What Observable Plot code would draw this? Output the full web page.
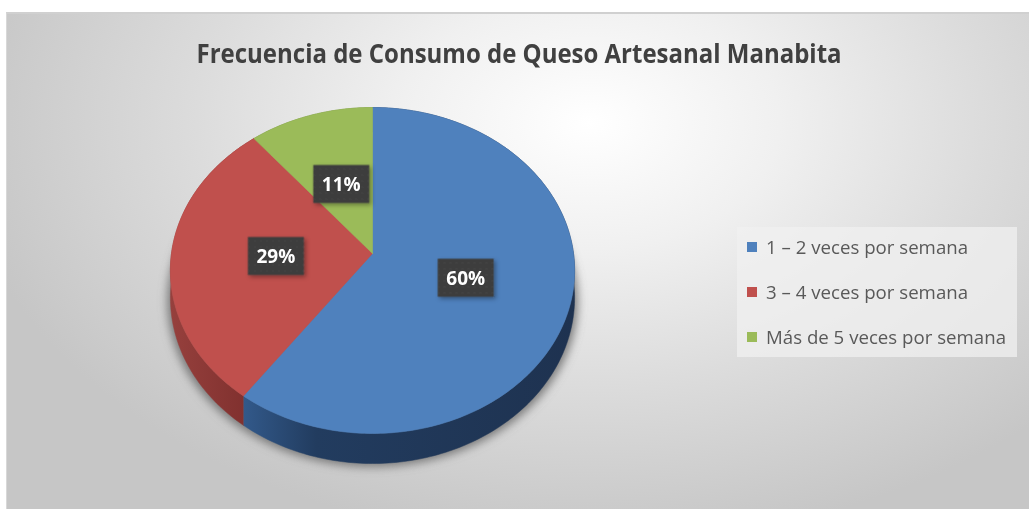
<!DOCTYPE html>
<html><head><meta charset="utf-8">
<script src="https://cdn.jsdelivr.net/npm/d3@7"></script>
<script src="https://cdn.jsdelivr.net/npm/@observablehq/plot@0.6"></script>
<style>
html,body{margin:0;padding:0;background:#fff;width:1029px;height:509px;overflow:hidden;}
#frame{position:absolute;left:6px;top:12px;width:1023px;height:497px;box-sizing:border-box;
 border-top:2px solid #d0d0d0;border-left:1px solid #d8d8d8;
 background:radial-gradient(ellipse 62% 85% at 57% 22%, #ffffff 0%, #f0f0f0 30%, #dcdcdc 62%, #c6c6c6 100%);}
#chart{position:absolute;left:0;top:0;}
#title{position:absolute;top:34px;left:0;width:1039px;text-align:center;font-family:"Open Sans",sans-serif;font-weight:700;color:#404040;white-space:nowrap;}
#title span{display:inline-block;transform-origin:50% 50%;}
#legend{position:absolute;left:737px;top:227px;width:280px;height:130px;background:rgba(240,240,240,0.75);font-family:"Open Sans",sans-serif;color:#595959;}
.li{position:absolute;left:10px;height:20px;display:flex;align-items:center;white-space:nowrap;}
.sw{width:10px;height:10px;margin-right:9px;flex:none;}
.li span{display:inline-block;transform-origin:0 50%;}
</style></head>
<body>
<div id="frame"></div>
<div id="chart"></div>
<div id="title"><span>Frecuencia de Consumo de Queso Artesanal Manabita</span></div>
<div id="legend"></div>
<script>
// ---- data ----
const categories = ["1 – 2 veces por semana", "3 – 4 veces por semana", "Más de 5 veces por semana"];
const shares = [60, 29, 11];
const labels = ["60%", "29%", "11%"];
const topColors = ["#4F81BD", "#C0504D", "#9BBB59"];
const sideColors = ["url(#blueSide)", "url(#redSide)", "#6F8A3E"];

// ---- geometry (perspective view of a tilted disk) ----
const c = 0.1043;          // perspective strength
const depth = 0.167;       // wall thickness in y-units
function proj(phi, r = 1) { // phi clockwise from top (radians)
  const X = r * Math.sin(phi), Z = r * Math.cos(phi);
  const d = 1 + c * Z;
  return {u: X / d, v: Z / d, d};
}
const total = d3.sum(shares);
let acc = 0;
const slices = shares.map((s, i) => {
  const a0 = acc / total * 2 * Math.PI;
  acc += s;
  const a1 = acc / total * 2 * Math.PI;
  return {i, a0, a1, mid: (a0 + a1) / 2};
});
function arcPts(a0, a1) {
  const n = Math.max(2, Math.ceil((a1 - a0) / (Math.PI / 180)));
  return d3.range(n + 1).map(k => a0 + (a1 - a0) * k / n);
}
const marks = [];
// shadow (bottom face silhouette)
const shadowPts = arcPts(0, 2 * Math.PI).map(a => { const p = proj(a); return {u: p.u * 1.015, v: p.v - depth / p.d - 0.02}; });
marks.push(Plot.line(shadowPts, {x: "u", y: "v", fill: "#6e6e6e", stroke: "none", fillOpacity: 0.9}));
// walls
slices.forEach(s => {
  const top = arcPts(s.a0, s.a1).map(a => proj(a));
  const pts = top.map(p => ({u: p.u, v: p.v})).concat(top.slice().reverse().map(p => ({u: p.u, v: p.v - depth / p.d})));
  marks.push(Plot.line(pts, {x: "u", y: "v", fill: sideColors[s.i], stroke: sideColors[s.i], strokeWidth: 0.5}));
});
// top faces
slices.forEach(s => {
  const pts = [{u: 0, v: 0}].concat(arcPts(s.a0, s.a1).map(a => { const p = proj(a); return {u: p.u, v: p.v}; }));
  pts.push({u: 0, v: 0});
  marks.push(Plot.line(pts, {x: "u", y: "v", fill: topColors[s.i], stroke: topColors[s.i], strokeWidth: 0.6}));
});
// data labels
const labelData = slices.map(s => { const p = proj(s.mid, 0.48); return {u: p.u, v: p.v, t: labels[s.i]}; });
const boxSymbol = {draw(ctx) { ctx.rect(-28, -19, 56, 38); }};
marks.push(Plot.dot(labelData, {x: "u", y: "v", symbol: boxSymbol, r: 5, fill: "url(#dots)", stroke: "none"}));
marks.push(Plot.text(labelData, {x: "u", y: "v", text: "t", fill: "white", fontSize: 19, fontWeight: "bold", fontFamily: "Open Sans, sans-serif", dy: 1}));

const svg = Plot.plot({
  width: 1029, height: 509, margin: 0,
  x: {domain: [-1, 1], range: [372 - 201, 372 + 201], axis: null},
  y: {domain: [-1, 1], range: [253 + 161.2, 253 - 161.2], axis: null},
  style: {background: "transparent", overflow: "visible"},
  marks
});
const defs = d3.select(svg).insert("defs", ":first-child");
const bg = defs.append("linearGradient").attr("id", "blueSide").attr("x1", 0).attr("x2", 1).attr("y1", 0).attr("y2", 0);
bg.append("stop").attr("offset", 0).attr("stop-color", "#32598a");
bg.append("stop").attr("offset", 0.22).attr("stop-color", "#223c5f");
bg.append("stop").attr("offset", 1).attr("stop-color", "#1e3250");
const rg = defs.append("linearGradient").attr("id", "redSide").attr("x1", 0).attr("x2", 1).attr("y1", 0).attr("y2", 0);
rg.append("stop").attr("offset", 0).attr("stop-color", "#96403d");
rg.append("stop").attr("offset", 1).attr("stop-color", "#7e2f2d");
const pat = defs.append("pattern").attr("id", "dots").attr("width", 6).attr("height", 6).attr("patternUnits", "userSpaceOnUse");
pat.append("rect").attr("width", 6).attr("height", 6).attr("fill", "#3d3d3d");
pat.append("circle").attr("cx", 3).attr("cy", 3).attr("r", 0.6).attr("fill", "#5a5a5a");
const blur = defs.append("filter").attr("id", "blur").attr("x", "-20%").attr("y", "-20%").attr("width", "140%").attr("height", "140%");
blur.append("feGaussianBlur").attr("stdDeviation", 5);
const ds = defs.append("filter").attr("id", "ds").attr("x", "-30%").attr("y", "-30%").attr("width", "160%").attr("height", "160%");
ds.append("feDropShadow").attr("dx", 2).attr("dy", 2).attr("stdDeviation", 2).attr("flood-color", "#000").attr("flood-opacity", 0.35);
const lines = svg.querySelectorAll('g[aria-label="line"]');
lines[0].setAttribute("filter", "url(#blur)");
const dotsG = svg.querySelector('g[aria-label="dot"]');
if (dotsG) dotsG.setAttribute("filter", "url(#ds)");
document.getElementById("chart").appendChild(svg);

// title sizing (narrow, bold look)
const tspan = document.querySelector("#title span");
tspan.style.fontSize = "27px";
const tw = tspan.getBoundingClientRect().width;
tspan.style.transform = `scaleX(${645 / tw})`;

// legend
const leg = document.getElementById("legend");
const rowY = [20, 65, 110];
categories.forEach((cat, i) => {
  const row = document.createElement("div");
  row.className = "li";
  row.style.top = (rowY[i] - 10) + "px";
  row.innerHTML = `<div class="sw" style="background:${topColors[i]}"></div><span>${cat}</span>`;
  leg.appendChild(row);
});
const spans = leg.querySelectorAll("span");
spans.forEach(s => s.style.fontSize = "18px");
const lw = spans[2].getBoundingClientRect().width;
spans.forEach(s => s.style.transform = `scaleX(${240 / lw})`);
</script>
</body></html>
